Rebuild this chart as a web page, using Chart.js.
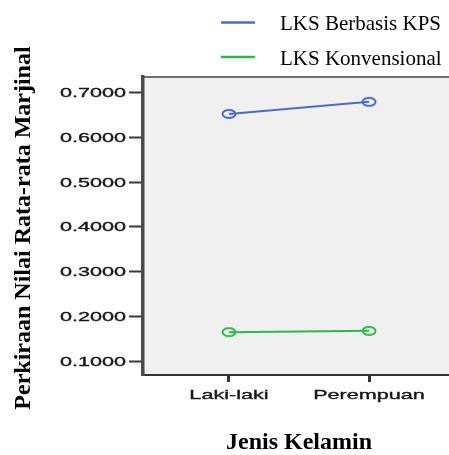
<!DOCTYPE html>
<html>
<head>
<meta charset="utf-8">
<script src="https://cdn.jsdelivr.net/npm/chart.js@4/dist/chart.umd.min.js"></script>
<style>
  html, body { margin: 0; padding: 0; background: #fff; overflow: hidden; }
  #wrap { width: 470px; height: 455px; }
</style>
</head>
<body>
<div id="wrap"><canvas id="marginalChart"></canvas></div>
<script>
// Estimated marginal means by gender (SPSS profile plot)
const categories = ["Laki-laki", "Perempuan"];
const seriesNames = ["LKS Berbasis KPS", "LKS Konvensional"];
const kpsValues = [0.652, 0.679];
const konvensionalValues = [0.165, 0.168];
const yTickValues = [0.1, 0.2, 0.3, 0.4, 0.5, 0.6, 0.7];
const yTickLabels = ["0.1000", "0.2000", "0.3000", "0.4000", "0.5000", "0.6000", "0.7000"];
const yTitle = "Perkiraan Nilai Rata-rata Marjinal";
const xTitle = "Jenis Kelamin";

const yMin = 0.0694, yMax = 0.7344;
const xMin = -0.614, xMax = 1.614;
const BLUE = "#4b6cc5";
const GREEN = "#2db84b";
const STRETCH = 1.6; // SPSS output was pasted stretched sideways

// hollow ellipse marker, like the squashed SPSS circles
function ellipseMarker(color) {
  const c = document.createElement("canvas");
  c.width = 18;
  c.height = 12;
  const g = c.getContext("2d");
  g.strokeStyle = color;
  g.lineWidth = 2;
  g.beginPath();
  g.ellipse(9, 6, 6.5, 4, 0, 0, Math.PI * 2);
  g.stroke();
  return c;
}

function toPoints(values) {
  return categories.map((c, i) => ({ x: i, y: values[i] }));
}

const plotFrame = {
  id: "plotFrame",
  beforeDraw(chart) {
    const { ctx, chartArea: a } = chart;
    ctx.save();
    ctx.fillStyle = "#f0f0f0";
    ctx.fillRect(a.left, a.top, a.right - a.left, a.bottom - a.top);
    ctx.strokeStyle = "#444";
    ctx.lineWidth = 1.5;
    ctx.beginPath();
    ctx.moveTo(a.left, a.top);
    ctx.lineTo(a.right, a.top);
    ctx.lineTo(a.right, a.bottom);
    ctx.stroke();
    ctx.restore();
  },
  afterDraw(chart) {
    const { ctx } = chart;
    const ys = chart.scales.y, xs = chart.scales.x;

    // tick labels, stretched
    ctx.save();
    ctx.fillStyle = "#151515";
    ctx.strokeStyle = "#151515";
    ctx.lineWidth = 0.35;
    ctx.font = '13.5px "Liberation Sans", Arial, sans-serif';
    ys.ticks.forEach((t) => {
      const i = yTickValues.indexOf(t.value);
      ctx.save();
      ctx.translate(ys.right - 17, ys.getPixelForValue(t.value) + 4.5);
      ctx.scale(STRETCH, 1);
      ctx.textAlign = "right";
      ctx.fillText(yTickLabels[i], 0, 0);
      ctx.strokeText(yTickLabels[i], 0, 0);
      ctx.restore();
    });
    xs.ticks.forEach((t) => {
      ctx.save();
      ctx.translate(xs.getPixelForValue(t.value), xs.top + 24);
      ctx.scale(STRETCH, 1);
      ctx.textAlign = "center";
      ctx.fillText(categories[t.value], 0, 0);
      ctx.strokeText(categories[t.value], 0, 0);
      ctx.restore();
    });
    ctx.restore();

    // y title
    ctx.save();
    ctx.translate(24, 228);
    ctx.rotate(-Math.PI / 2);
    ctx.font = 'bold 24px "Liberation Serif", "Times New Roman", serif';
    ctx.fillStyle = "#000";
    ctx.textAlign = "center";
    ctx.textBaseline = "middle";
    ctx.fillText(yTitle, 0, 0);
    ctx.restore();

    // legend, top right
    ctx.save();
    ctx.font = '21px "Liberation Serif", "Times New Roman", serif';
    ctx.textBaseline = "alphabetic";
    chart.data.datasets.forEach((ds, i) => {
      const y = 22.5 + i * 34.5;
      ctx.strokeStyle = ds.borderColor;
      ctx.lineWidth = 2.5;
      ctx.beginPath();
      ctx.moveTo(221, y);
      ctx.lineTo(255, y);
      ctx.stroke();
      ctx.fillStyle = "#000";
      ctx.fillText(ds.label, 280, y + 7.5);
    });
    ctx.restore();
  },
};

document.addEventListener("DOMContentLoaded", function () {
  new Chart(document.getElementById("marginalChart").getContext("2d"), {
    type: "line",
    data: {
      datasets: [
        {
          label: seriesNames[0],
          data: toPoints(kpsValues),
          borderColor: BLUE,
          borderWidth: 2,
          pointStyle: ellipseMarker(BLUE),
          tension: 0,
        },
        {
          label: seriesNames[1],
          data: toPoints(konvensionalValues),
          borderColor: GREEN,
          borderWidth: 2,
          pointStyle: ellipseMarker(GREEN),
          tension: 0,
        },
      ],
    },
    options: {
      responsive: true,
      maintainAspectRatio: false,
      animation: false,
      layout: { padding: { top: 77, right: 15, left: 0, bottom: 0 } },
      plugins: { legend: { display: false }, tooltip: { enabled: false } },
      scales: {
        x: {
          type: "linear",
          min: xMin,
          max: xMax,
          afterBuildTicks: (s) => { s.ticks = categories.map((c, i) => ({ value: i })); },
          afterFit: (s) => { s.height = 80; },
          ticks: { display: false },
          grid: { drawOnChartArea: false, drawTicks: true, tickLength: 7, tickWidth: 3, tickColor: "#333" },
          border: { display: true, color: "#333", width: 2 },
          title: {
            display: true,
            text: xTitle,
            color: "#000",
            padding: 0,
            font: { family: '"Liberation Serif", "Times New Roman", serif', size: 24, weight: "bold", lineHeight: 1 },
          },
        },
        y: {
          min: yMin,
          max: yMax,
          afterBuildTicks: (s) => { s.ticks = yTickValues.map((v) => ({ value: v })); },
          afterFit: (s) => { s.width = 143; },
          ticks: { display: false },
          grid: { drawOnChartArea: false, drawTicks: true, tickLength: 14, tickWidth: 2, tickColor: "#3a3a3a" },
          border: { display: true, color: "#4a4a4a", width: 3.5 },
        },
      },
    },
    plugins: [plotFrame],
  });
});
</script>
</body>
</html>
